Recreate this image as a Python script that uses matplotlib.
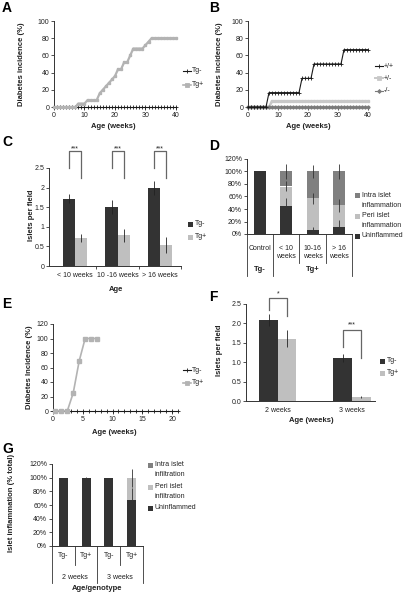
import numpy as np
import matplotlib
matplotlib.use("Agg")
import matplotlib.pyplot as plt
from matplotlib.patches import Rectangle
from matplotlib.lines import Line2D

plt.rcParams['font.family'] = ['Liberation Sans', 'DejaVu Sans']

W, H = 410, 594

# =========================================================
# DATA
# =========================================================

# A - diabetes incidence, weekly
a_weeks = list(range(0, 41))
a_tg_neg = [0] * 41
a_tg_pos = ([0] * 8 + [4, 4, 4] + [8, 8, 8, 8]
            + [16, 20, 24, 28, 32, 36, 44, 44, 52, 52, 60, 68, 68, 68, 68, 72, 76]
            + [80] * 9)

# B - diabetes incidence by genotype
b_weeks = list(range(0, 41))
b_pp = [0] * 7 + [16.7] * 11 + [33.3] * 4 + [50] * 10 + [66.7] * 9
b_pm = [0] * 8 + [6.7] * 33
b_mm = [0] * 41
b_labels = ['+/+', '+/-', '-/-']

# C - islets per field
c_groups = ['< 10 weeks', '10 -16 weeks', '> 16 weeks']
c_neg = [1.72, 1.51, 1.99]
c_neg_err = [0.12, 0.18, 0.18]
c_pos = [0.72, 0.78, 0.53]
c_pos_err = [0.10, 0.17, 0.21]
c_sig = ['***', '***', '***']

# D - inflammation (%)
d_cats = ['Control', '< 10\nweeks', '10-16\nweeks', '> 16\nweeks']
d_geno = ['Tg-', 'Tg+']
d_uninfl = [100, 45, 7, 12]
d_peri = [0, 31, 50, 34]
d_intra = [0, 24, 43, 54]
d_uninfl_err = [0, 12, 5, 10]
d_peri_err = [0, 8, 9, 10]
d_intra_err = [0, 12, 11, 12]

# E - diabetes incidence (second model)
e_neg_x = list(range(0, 22))
e_neg_y = [0] * 22
e_pos_x = [0.4, 1.4, 2.4, 3.4, 4.4, 5.4, 6.4, 7.4]
e_pos_y = [0, 0, 0, 25, 69, 100, 100, 100]

# F - islets per field
f_groups = ['2 weeks', '3 weeks']
f_neg = [2.09, 1.10]
f_neg_err = [0.15, 0.10]
f_pos = [1.60, 0.11]
f_pos_err = [0.22, 0.03]
f_sig = ['*', '***']

# G - islet inflammation (% total)
g_cats = ['Tg-', 'Tg+', 'Tg-', 'Tg+']
g_groups = ['2 weeks', '3 weeks']
g_uninfl = [100, 100, 100, 68]
g_peri = [0, 0, 0, 32]
g_intra = [0, 0, 0, 0]
g_uninfl_err = [0, 1, 0, 17]
g_peri_err = [0, 0, 0, 13]

# =========================================================
# HELPERS
# =========================================================

DARK = '#333333'
LIGHT = '#bfbfbf'
MID = '#808080'
TXT = '#222222'

fig = plt.figure(figsize=(W / 100, H / 100), dpi=100)


def add_ax(l, t, r, b):
    ax = fig.add_axes([l / W, 1 - b / H, (r - l) / W, (b - t) / H])
    for s in ['top', 'right']:
        ax.spines[s].set_visible(False)
    for s in ['left', 'bottom']:
        ax.spines[s].set_linewidth(0.7)
        ax.spines[s].set_color('#333333')
    ax.tick_params(labelsize=5, length=2, width=0.6, pad=1.5,
                   color='#333333', labelcolor=TXT)
    return ax


def ftext(x, y, s, **kw):
    kw.setdefault('fontsize', 5)
    kw.setdefault('color', TXT)
    return fig.text(x / W, 1 - y / H, s, **kw)


def ylab(x, y, s):
    ftext(x, y, s, fontsize=5.5, fontweight='bold', rotation=90,
          ha='center', va='center')


def xlab(x, y, s):
    ftext(x, y, s, fontsize=5.5, fontweight='bold', ha='center', va='center')


def letter(x, y, s):
    ftext(x, y, s, fontsize=10, fontweight='bold', color='black',
          ha='left', va='center')


def line_key(x, y, color, marker, ms, lw, label):
    yy = 1 - y / H
    fig.add_artist(Line2D([x / W, (x + 4) / W, (x + 8) / W], [yy, yy, yy],
                          color=color, lw=lw, marker=marker, markersize=ms,
                          markevery=[1], mew=0.6))
    ftext(x + 9, y, label, va='center')


def box_key(x, y, color, label):
    fig.add_artist(Rectangle((x / W, 1 - (y + 2.5) / H), 5 / W, 5 / H,
                             transform=fig.transFigure, facecolor=color,
                             edgecolor='none'))
    ftext(x + 7, y - 3.6, label, va='top', linespacing=1.45)


# =========================================================
# A
# =========================================================

ax = add_ax(54, 21, 176, 107)
ax.plot(a_weeks, a_tg_neg, color='#1a1a1a', lw=0.8, marker='+', ms=2.5,
        mew=0.6, clip_on=False, zorder=3)
ax.plot(a_weeks, a_tg_pos, color='#b3b3b3', lw=1.6, marker='s', ms=2,
        clip_on=False, zorder=4)
ax.set_xlim(0, 40)
ax.set_ylim(0, 100)
ax.set_xticks(range(0, 41, 10))
ax.set_yticks(range(0, 101, 20))
letter(2, 8, 'A')
ylab(22, 64, 'Diabetes incidence (%)')
xlab(113, 127, 'Age (weeks)')
line_key(183, 71, '#1a1a1a', '+', 3, 0.8, 'Tg-')
line_key(183, 85, '#b3b3b3', 's', 2.5, 1.2, 'Tg+')

# =========================================================
# B
# =========================================================

ax = add_ax(248, 21, 368, 107)
ax.plot(b_weeks, b_mm, color='#7a7a7a', lw=0.9, marker='D', ms=1.6,
        clip_on=False, zorder=3)
ax.plot(b_weeks, b_pm, color='#c8c8c8', lw=1.8, marker='s', ms=2,
        clip_on=False, zorder=2)
ax.plot(b_weeks, b_pp, color='#1a1a1a', lw=0.8, marker='+', ms=2.5,
        mew=0.6, clip_on=False, zorder=4)
ax.set_xlim(0, 40)
ax.set_ylim(0, 100)
ax.set_xticks(range(0, 41, 10))
ax.set_yticks(range(0, 101, 20))
letter(209, 8, 'B')
ylab(220, 64, 'Diabetes incidence (%)')
xlab(308, 127, 'Age (weeks)')
line_key(375, 66, '#1a1a1a', '+', 3, 0.8, b_labels[0])
line_key(375, 78, '#c8c8c8', 's', 2.5, 1.4, b_labels[1])
line_key(375, 91, '#7a7a7a', 'D', 2, 0.8, b_labels[2])

# =========================================================
# C
# =========================================================

ax = add_ax(49, 168, 181, 266)
xc = np.arange(len(c_groups))
wc = 0.285
ekw = dict(lw=0.6, ecolor='#222222', capsize=0)
ax.bar(xc - wc / 2, c_neg, wc, color=DARK, yerr=c_neg_err, error_kw=ekw)
ax.bar(xc + wc / 2, c_pos, wc, color=LIGHT, yerr=c_pos_err, error_kw=ekw)
ax.set_xlim(-0.62, 2.5)
ax.set_ylim(0, 2.5)
ax.set_yticks([0, 0.5, 1, 1.5, 2, 2.5])
ax.set_yticklabels(['0', '0.5', '1', '1.5', '2', '2.5'])
ax.set_xticks(xc)
ax.set_xticklabels(c_groups)
ax.tick_params(axis='x', which='major', length=0, pad=4)
ax.set_xticks([0.5, 1.5, 2.5], minor=True)
ax.tick_params(axis='x', which='minor', length=2, width=0.6, color='#333333')
for i, s in enumerate(c_sig):
    ax.plot([i - wc / 2, i - wc / 2, i + wc / 2, i + wc / 2],
            [2.5, 2.935, 2.935, 2.24], color='#666666', lw=0.9, clip_on=False)
    ax.text(i, 3.0, s, fontsize=5, ha='center', va='center', color=TXT)
letter(2, 142, 'C')
ylab(32, 215, 'Islets per field')
xlab(116, 289, 'Age')
box_key(188, 224, DARK, 'Tg-')
box_key(188, 237, LIGHT, 'Tg+')

# =========================================================
# D
# =========================================================

ax = add_ax(247, 159, 352, 234)
xd = np.arange(len(d_cats))
wd = 0.46
d_b2 = [u + p for u, p in zip(d_uninfl, d_peri)]
d_b3 = [b + i for b, i in zip(d_b2, d_intra)]
ax.bar(xd, d_uninfl, wd, color=DARK)
ax.bar(xd, d_peri, wd, bottom=d_uninfl, color=LIGHT)
ax.bar(xd, d_intra, wd, bottom=d_b2, color=MID)
ax.errorbar(xd, d_uninfl, yerr=d_uninfl_err, fmt='none', ecolor='#333333', lw=0.6)
ax.errorbar(xd, d_b2, yerr=d_peri_err, fmt='none', ecolor='#333333', lw=0.6)
ax.errorbar(xd, d_b3, yerr=d_intra_err, fmt='none', ecolor='#333333', lw=0.6)
ax.set_xlim(-0.5, 3.5)
ax.set_ylim(0, 120)
ax.set_yticks(range(0, 121, 20))
ax.set_yticklabels([f'{v}%' for v in range(0, 121, 20)])
ax.set_xticks([])
tr = ax.get_xaxis_transform()
for xs, yb in [(-0.5, -0.56), (0.5, -0.56), (1.5, -0.39), (2.5, -0.39), (3.5, -0.56)]:
    ax.plot([xs, xs], [0, yb], transform=tr, clip_on=False, color='#333333', lw=0.6)
for i, c in enumerate(d_cats):
    ax.text(i, -0.15, c, transform=tr, fontsize=5, ha='center', va='top',
            color=TXT, linespacing=1.2)
ax.text(0, -0.47, d_geno[0], transform=tr, fontsize=5.5, fontweight='bold',
        ha='center', va='center', color=TXT)
ax.text(2, -0.47, d_geno[1], transform=tr, fontsize=5.5, fontweight='bold',
        ha='center', va='center', color=TXT)
letter(209, 146, 'D')
box_key(355, 196, MID, 'Intra islet\ninflammation')
box_key(355, 216, LIGHT, 'Peri islet\ninflammation')
box_key(355, 236, DARK, 'Uninflammed')

# =========================================================
# E
# =========================================================

ax = add_ax(53, 324, 178, 411)
ax.plot(e_neg_x, e_neg_y, color='#1a1a1a', lw=0.8, marker='+', ms=2.5,
        mew=0.6, clip_on=False, zorder=3)
ax.plot(e_pos_x, e_pos_y, color='#b3b3b3', lw=1.2, marker='s', ms=2.2,
        clip_on=False, zorder=4)
ax.set_xlim(0, 21)
ax.set_ylim(0, 120)
ax.set_xticks(range(0, 21, 5))
ax.set_yticks(range(0, 121, 20))
letter(2, 304, 'E')
ylab(30, 367, 'Diabetes Incidence (%)')
xlab(114, 432, 'Age (weeks)')
line_key(183, 370, '#1a1a1a', '+', 3, 0.8, 'Tg-')
line_key(183, 383, '#b3b3b3', 's', 2.5, 1.2, 'Tg+')

# =========================================================
# F
# =========================================================

ax = add_ax(246, 304, 375, 401)
xf = np.arange(len(f_groups))
wf = 0.25
ax.bar(xf - wf / 2, f_neg, wf, color=DARK, yerr=f_neg_err, error_kw=ekw)
ax.bar(xf + wf / 2, f_pos, wf, color=LIGHT, yerr=f_pos_err, error_kw=ekw)
ax.set_xlim(-0.43, 1.31)
ax.set_ylim(0, 2.5)
ax.set_yticks([0, 0.5, 1, 1.5, 2, 2.5])
ax.set_yticklabels([f'{v:.1f}' for v in [0, 0.5, 1, 1.5, 2, 2.5]])
ax.set_xticks(xf)
ax.set_xticklabels(f_groups)
ax.tick_params(axis='x', length=0, pad=4)
br = [(2.35, 2.66, 2.18, 2.76), (1.40, 1.83, 1.12, 1.96)]
for i, (lo, top, ro, ty) in enumerate(br):
    ax.plot([i - wf / 2, i - wf / 2, i + wf / 2, i + wf / 2],
            [lo, top, top, ro], color='#666666', lw=0.9, clip_on=False)
    ax.text(i, ty, f_sig[i], fontsize=5, ha='center', va='center', color=TXT)
letter(209, 297, 'F')
ylab(220, 350, 'Islets per field')
xlab(311, 421, 'Age (weeks)')
box_key(380, 361, DARK, 'Tg-')
box_key(380, 373, LIGHT, 'Tg+')

# =========================================================
# G
# =========================================================

ax = add_ax(52, 464, 143, 546)
xg = np.arange(len(g_cats))
wg = 0.4
g_b2 = [u + p for u, p in zip(g_uninfl, g_peri)]
ax.bar(xg, g_uninfl, wg, color=DARK)
ax.bar(xg, g_peri, wg, bottom=g_uninfl, color=LIGHT)
ax.bar(xg, g_intra, wg, bottom=g_b2, color=MID)
ax.errorbar(xg, g_uninfl, yerr=g_uninfl_err, fmt='none', ecolor='#333333', lw=0.6)
ax.errorbar(xg, g_b2, yerr=g_peri_err, fmt='none', ecolor='#333333', lw=0.6)
ax.set_xlim(-0.5, 3.5)
ax.set_ylim(0, 120)
ax.set_yticks(range(0, 121, 20))
ax.set_yticklabels([f'{v}%' for v in range(0, 121, 20)])
ax.set_xticks([])
tr = ax.get_xaxis_transform()
for xs, yb in [(-0.5, -0.45), (0.5, -0.23), (1.5, -0.45), (2.5, -0.23), (3.5, -0.45)]:
    ax.plot([xs, xs], [0, yb], transform=tr, clip_on=False, color='#333333', lw=0.6)
for i, c in enumerate(g_cats):
    ax.text(i, -0.11, c, transform=tr, fontsize=5, ha='center', va='center', color=TXT)
for j, g in enumerate(g_groups):
    ax.text(2 * j + 0.5, -0.38, g, transform=tr, fontsize=5, ha='center',
            va='center', color=TXT)
letter(2, 449, 'G')
ylab(12, 503, 'Islet inflammation (% total)')
xlab(97, 589, 'Age/genotype')
box_key(148, 465, MID, 'Intra islet\ninfiltration')
box_key(148, 487, LIGHT, 'Peri islet\ninfiltration')
box_key(148, 508, DARK, 'Uninflammed')

fig.savefig('out.png', dpi=100)
